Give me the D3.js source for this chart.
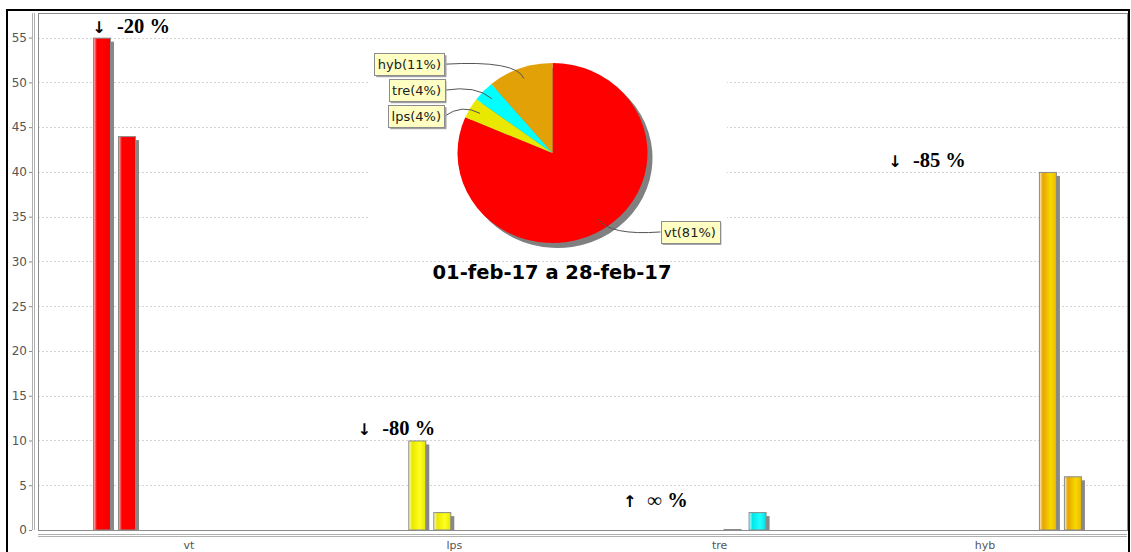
<!DOCTYPE html>
<html><head><meta charset="utf-8">
<script src="https://cdn.jsdelivr.net/npm/d3@7"></script>
<style>body{margin:0;background:#fff}svg{display:block}</style>
</head><body>
<svg id="c" width="1131" height="552"></svg>
<script>
// ---- data ----
const categories = ["vt", "lps", "tre", "hyb"];
const previousValues = [55, 10, 0, 40];
const currentValues = [44, 2, 2, 6];
const yTicks = [0, 5, 10, 15, 20, 25, 30, 35, 40, 45, 50, 55];
const periodTitle = "01-feb-17 a 28-feb-17";
const pieColors = ["#ff0000", "#e8e800", "#00ffff", "#e2a106"];
const barGradients = [
  ["#ffc8c8", "#ff0000", "#ff0000", "#f00000"],
  ["#ffffd0", "#e8e800", "#ffff20", "#e6e600"],
  ["#d0ffff", "#00e8e8", "#20ffff", "#00e0e0"],
  ["#fff2d8", "#e6a400", "#f8d800", "#ecbc00"]
];

// ---- layout ----
const svg = d3.select("#c");
const W = 1131, H = 552;
const plot = {l: 38, t: 13, r: 1127, b: 530};

const y = d3.scaleLinear()
  .domain([0, d3.max(previousValues.concat(currentValues)) * 1.05])
  .range([plot.b, plot.t]);

const x = d3.scaleBand().domain(categories)
  .range([plot.l, plot.r]).paddingInner(0.2763).paddingOuter(0.1905).align(0.544);

const seriesKeys = d3.range(categories.length * 2);
const xs = d3.scaleBand().domain(seriesKeys)
  .range([0, x.bandwidth()]).paddingInner(0.32).paddingOuter(0);

svg.append("rect").attr("width", W).attr("height", H).attr("fill", "#fff");

const defs = svg.append("defs");
barGradients.forEach((g, i) => {
  const lg = defs.append("linearGradient").attr("id", "bg" + i)
    .attr("x1", "0").attr("x2", "1").attr("y1", "0").attr("y2", "0");
  [0, 0.2, 0.65, 1].forEach((o, j) => lg.append("stop").attr("offset", o).attr("stop-color", g[j]));
});
defs.append("clipPath").attr("id", "plotclip").append("rect")
  .attr("x", plot.l).attr("y", plot.t).attr("width", plot.r - plot.l).attr("height", plot.b - plot.t);

// gridlines
svg.append("g").selectAll("line").data(yTicks.filter(d => d > 0)).join("line")
  .attr("x1", plot.l).attr("x2", plot.r)
  .attr("y1", d => Math.round(y(d)) + 0.5).attr("y2", d => Math.round(y(d)) + 0.5)
  .attr("stroke", "#d4d4d4").attr("stroke-dasharray", "2,2");

// pie backdrop
const pcx = 552.5, pcy = 153, rx = 95, ry = 90;
svg.append("rect").attr("x", 368).attr("y", 44).attr("width", 359).attr("height", 208).attr("fill", "#fff");

// bars
const bars = [];
categories.forEach((c, i) => {
  bars.push({c, i, s: 2 * i, v: previousValues[i]});
  bars.push({c, i, s: 2 * i + 1, v: currentValues[i]});
});
const bx = d => x(d.c) + xs(d.s);
const bh = d => Math.max(1, plot.b - y(d.v));
const gb = svg.append("g").attr("clip-path", "url(#plotclip)");
gb.selectAll("rect.sh").data(bars).join("rect").attr("class", "sh")
  .attr("x", d => bx(d) + 4).attr("y", d => plot.b - bh(d) + 4)
  .attr("width", xs.bandwidth()).attr("height", d => bh(d))
  .attr("fill", "#888");
gb.selectAll("rect.bar").data(bars).join("rect").attr("class", "bar")
  .attr("x", d => bx(d) + 0.5).attr("y", d => plot.b - bh(d) + 0.5)
  .attr("width", xs.bandwidth()).attr("height", d => bh(d) - 0.5)
  .attr("fill", d => "url(#bg" + d.i + ")")
  .attr("stroke", "#8a8a8a").attr("stroke-width", 1);

// change annotations
const ga = svg.append("g");
categories.forEach((c, i) => {
  const p = previousValues[i], q = currentValues[i];
  const cx = x(c) + x.bandwidth() / 2;
  const ty = y(Math.max(p, q)) - 5;
  const up = q > p;
  const pct = p === 0 ? "∞ %" : Math.round((q - p) / p * 100) + " %";
  ga.append("text").attr("x", cx - 90).attr("y", ty).attr("text-anchor", "middle")
    .attr("font-family", "DejaVu Sans").attr("font-weight", "bold").attr("font-size", 16).attr("fill", "#000")
    .text(up ? "↑" : "↓");
  ga.append("text").attr("x", cx - 72).attr("y", ty)
    .attr("font-family", "Liberation Serif").attr("font-weight", "bold").attr("font-size", 20.5)
    .attr("fill", "#000").text(pct);
});

// pie
const total = d3.sum(currentValues);
const pieData = d3.pie().sort(null).value(d => d.v)(
  categories.map((c, i) => ({c, i, v: currentValues[i]})));
const arc = d3.arc().innerRadius(0).outerRadius(ry);
svg.append("g").attr("transform", `translate(${pcx + 5},${pcy + 5}) scale(${rx / ry},1)`)
  .selectAll("path").data(pieData).join("path").attr("d", arc).attr("fill", "#808080");
svg.append("g").attr("transform", `translate(${pcx},${pcy}) scale(${rx / ry},1)`)
  .selectAll("path").data(pieData).join("path").attr("d", arc)
  .attr("fill", d => pieColors[d.data.i]);

// pie labels
const labels = pieData.map(d => {
  const a = (d.startAngle + d.endAngle) / 2;
  const s = Math.sin(a), co = Math.cos(a);
  return {
    text: `${d.data.c}(${Math.round(d.data.v / total * 100)}%)`,
    ax: pcx + rx * 0.88 * s, ay: pcy - ry * 0.88 * co,
    ex: pcx + rx * 1.1 * s, ey: pcy - ry * 1.1 * co,
    ly: pcy - ry * 1.05 * co,
    left: s < 0
  };
});
[true, false].forEach(side => {
  const grp = labels.filter(l => l.left === side).sort((a, b) => a.ly - b.ly);
  for (let k = 1; k < grp.length; k++)
    if (grp[k].ly < grp[k - 1].ly + 26) grp[k].ly = grp[k - 1].ly + 26;
});
const gl = svg.append("g");
labels.forEach(l => {
  const bxEdge = l.left ? pcx - rx - 13 : pcx + rx + 13;
  gl.append("path")
    .attr("d", `M${bxEdge},${l.ly} Q${l.ex},${l.ey} ${l.ax},${l.ay}`)
    .attr("fill", "none").attr("stroke", "#555").attr("stroke-width", 1);
  const g = gl.append("g");
  const t = g.append("text").attr("font-family", "DejaVu Sans").attr("font-size", 13)
    .attr("fill", "#222").text(l.text);
  const tw = t.node().getComputedTextLength();
  const bw = tw + 7, bhh = 22;
  const x0 = l.left ? bxEdge - bw : bxEdge;
  const y0 = l.ly - bhh / 2;
  g.insert("rect", "text").attr("x", x0 + 2).attr("y", y0 + 2).attr("width", bw).attr("height", bhh).attr("fill", "#a0a0a0");
  g.insert("rect", "text").attr("x", Math.round(x0) + 0.5).attr("y", Math.round(y0) + 0.5).attr("width", Math.round(bw)).attr("height", bhh)
    .attr("fill", "#ffffc4").attr("stroke", "#8c8c8c");
  t.attr("x", x0 + 3.5).attr("y", l.ly + 5);
});

// title
svg.append("text").attr("x", 552).attr("y", 279).attr("text-anchor", "middle")
  .attr("font-family", "DejaVu Sans").attr("font-weight", "bold").attr("font-size", 19.5)
  .attr("fill", "#000").text(periodTitle);

// plot border
svg.append("rect").attr("x", plot.l + 0.5).attr("y", plot.t + 0.5)
  .attr("width", plot.r - plot.l).attr("height", plot.b - plot.t)
  .attr("fill", "none").attr("stroke", "#8c8c8c");

// y axis
const yAxis = svg.append("g").attr("transform", `translate(32,0)`)
  .call(d3.axisLeft(y).tickValues(yTicks).tickSize(3).tickPadding(2).tickSizeOuter(0));
yAxis.select(".domain").remove();
yAxis.selectAll(".tick line").attr("stroke", "#888");
yAxis.selectAll(".tick text").attr("font-family", "DejaVu Sans").attr("font-size", 12).attr("fill", "#555");
[32.5, 34.5].forEach(xx => svg.append("line").attr("x1", xx).attr("x2", xx)
  .attr("y1", plot.t).attr("y2", plot.b).attr("stroke", "#b0b0b0"));

// x axis
[534.5, 536.5].forEach(yy => svg.append("line").attr("x1", plot.l).attr("x2", plot.r)
  .attr("y1", yy).attr("y2", yy).attr("stroke", "#b0b0b0"));
const xAxis = svg.append("g").attr("transform", `translate(0,537)`)
  .call(d3.axisBottom(x).tickSize(0).tickPadding(0));
xAxis.select(".domain").remove();
xAxis.selectAll(".tick text").attr("dy", null).attr("y", 12)
  .attr("font-family", "DejaVu Sans").attr("font-size", 11).attr("fill", "#555");

// outer border
svg.append("path").attr("d", `M7,${H + 5} V10 H1129 V${H + 5}`)
  .attr("fill", "none").attr("stroke", "#000").attr("stroke-width", 2);
</script>
</body></html>
